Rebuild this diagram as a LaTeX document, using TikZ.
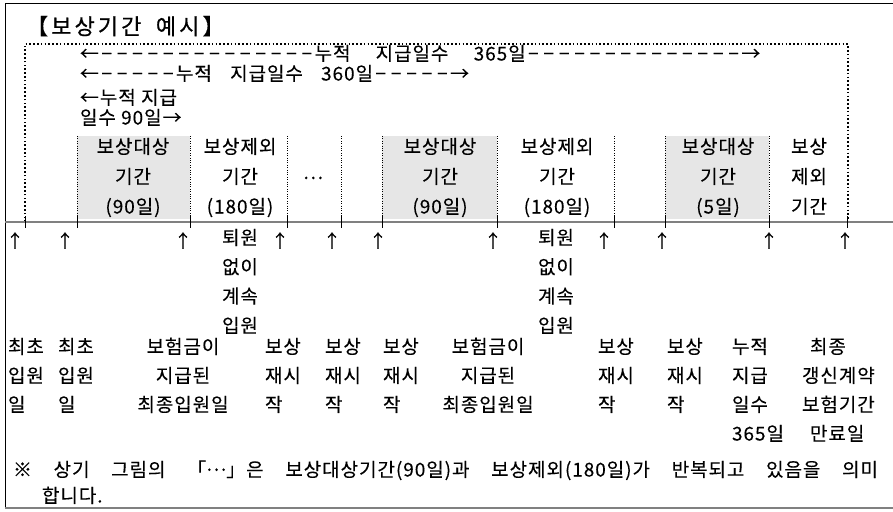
\documentclass[tikz,border=0pt]{standalone}
\usepackage{fontspec}
\setmainfont{Noto Sans CJK KR}[LetterSpace=5,WordSpace=3.5,FakeBold=0.15]
\newfontfamily\tightfont{Noto Sans CJK KR}[LetterSpace=5,FakeBold=0.15]
\newfontfamily\titlefont{Noto Sans CJK KR}[LetterSpace=14,WordSpace=1.8,FakeBold=0.6]
\definecolor{boxgray}{HTML}{E6E6E6}
\definecolor{linegray}{HTML}{808080}
\newcount\mydashcnt
\newcommand\dd{\makebox[15.4pt]{−}}
\newcommand\ddn[1]{\mydashcnt=0 \loop\dd\advance\mydashcnt by 1 \ifnum\mydashcnt<#1\repeat}
\tikzset{
  lbl/.style={inner sep=0pt, outer sep=0pt, font=\fontsize{19}{30}\selectfont, align=center, anchor=base},
  lblL/.style={inner sep=0pt, outer sep=0pt, font=\fontsize{19}{29}\selectfont, align=left, anchor=base west},
  lblC/.style={inner sep=0pt, outer sep=0pt, font=\fontsize{19}{29}\selectfont, align=center, anchor=base},
  arrowtxt/.style={inner sep=0pt, outer sep=0pt, font=\fontsize{18}{20}\selectfont, anchor=base},
  topline/.style={inner sep=0pt, outer sep=0pt, font=\fontsize{19}{20}\selectfont, anchor=base west},
  timeline/.style={draw=linegray, line width=1.6pt},
  tickline/.style={draw=black, line width=0.7pt},
  thindot/.style={draw=black, line width=0.5pt, dash pattern=on 0.8pt off 1.6pt},
  bigdot/.style={draw=black, line width=1.6pt, dash pattern=on 1.6pt off 2.2pt},
  periodbox/.style={fill=boxgray, draw=none},
}
\begin{document}
\begin{tikzpicture}[x=1pt,y=-1pt]
\useasboundingbox (0,0) rectangle (893,511);
% outer frame
\draw[black, line width=1pt] (893,4) -- (5,4) -- (5,508);
\draw[linegray, line width=1.6pt] (5,508) -- (893,508);
% shaded periods
\fill[periodbox] (77,136) rectangle (190,219);
\fill[periodbox] (382,136) rectangle (497,219);
\fill[periodbox] (665,136) rectangle (769,219);
% thin dotted separators
\foreach \x in {77,190,287,341,382,497,614,665,769}
  \draw[thindot] (\x,136) -- (\x,222);
% big dotted frame
\draw[bigdot] (25,222) -- (25,44) -- (848,44) -- (848,222);
% timeline
\coordinate (tlA) at (5,222);
\coordinate (tlB) at (893,222);
\draw[timeline] (tlA) -- (tlB);
\foreach \x in {25,77,190,287,341,382,497,614,665,769,847}
  \draw[tickline] (\x,216) -- (\x,228);
% title
\node[inner sep=0pt, anchor=base west, font=\titlefont\fontsize{22}{22}\selectfont] (title) at (26,34.5) {【보상기간 예시】};
% cumulative lines
\node[topline] (c365) at (80,60.5) {←\ddn{14}누적\hspace{7pt} 지급일수\hspace{7pt} 365일\ddn{14}→};
\node[topline] (c360) at (80,80.5) {←\ddn{5}누적 지급일수 360일\ddn{5}→};
\node[topline, font=\tightfont\fontsize{19}{20}\selectfont] (c90a) at (80,104.5) {←누적 지급};
\node[topline, font=\tightfont\fontsize{19}{20}\selectfont] (c90b) at (80,124.5) {일수 90일→};
% period labels
\node[lbl] (p1) at (133,213.5) {보상대상\\기간\\(90일)};
\node[lbl] (p2) at (240,213.5) {보상제외\\기간\\(180일)};
\node[lbl] (pdots) at (313,179) {…};
\node[lbl] (p3) at (440,213.5) {보상대상\\기간\\(90일)};
\node[lbl] (p4) at (557,213.5) {보상제외\\기간\\(180일)};
\node[lbl] (p5) at (718,213.5) {보상대상\\기간\\(5일)};
\node[lbl] (p6) at (809,213.5) {보상\\제외\\기간};
% up arrows
\foreach \x/\n in {15/1,65/2,183/3,280/4,332/5,378/6,493/7,604/8,662/9,769/10,845/11}
  \node[arrowtxt] (u\n) at (\x,247.5) {↑};
% stay labels
\node[lblC, font=\fontsize{19}{29.3}\selectfont] (r1) at (240,332.5) {퇴원\\없이\\계속\\입원};
\node[lblC, font=\fontsize{19}{29.3}\selectfont] (r2) at (556,332.5) {퇴원\\없이\\계속\\입원};
% bottom labels
\node[lblL] (b1) at (8,411.5) {최초\\입원\\일};
\node[lblL] (b2) at (58,411.5) {최초\\입원\\일};
\node[lblC] (b3) at (183,411.5) {보험금이\\지급된\\최종입원일};
\node[lblL] (b4) at (265,411.5) {보상\\재시\\작};
\node[lblL] (b5) at (325,411.5) {보상\\재시\\작};
\node[lblL] (b6) at (383,411.5) {보상\\재시\\작};
\node[lblC] (b7) at (488,411.5) {보험금이\\지급된\\최종입원일};
\node[lblL] (b8) at (598,411.5) {보상\\재시\\작};
\node[lblL] (b9) at (667,411.5) {보상\\재시\\작};
\node[lblL] (b10) at (732,440.5) {누적\\지급\\일수\\365일};
\node[lblL] (b11) at (802,440.5) {\hspace*{8pt}최종\\갱신계약\\보험기간\\\hspace*{8pt}만료일};
% note
\node[topline] (note) at (13,476.5) {\makebox[865pt][s]{※ 상기 그림의 「\raisebox{0.3em}{…}」은 보상대상기간(90일)과 보상제외(180일)가 반복되고 있음을 의미}};
\node[topline] (note2) at (42,502.5) {합니다.};
\end{tikzpicture}
\end{document}
